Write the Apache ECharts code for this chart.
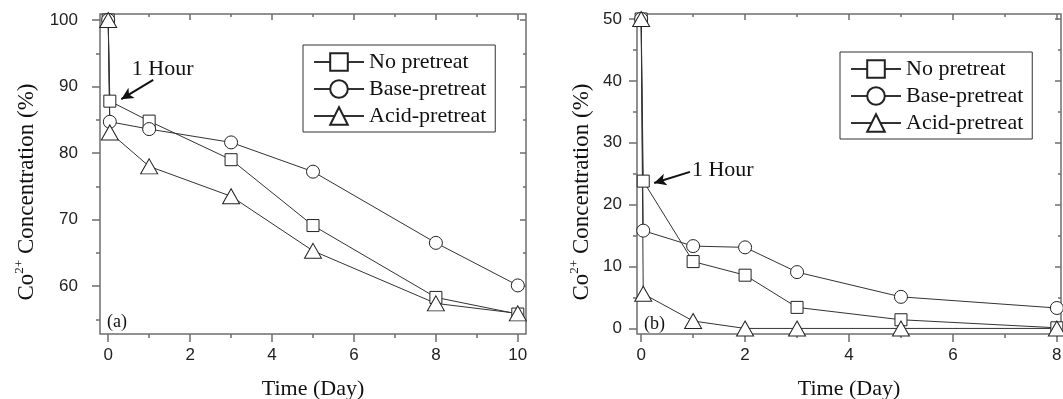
<!DOCTYPE html>
<html>
<head>
<meta charset="utf-8">
<script src="https://cdn.jsdelivr.net/npm/echarts@6/dist/echarts.min.js"></script>
<style>
  html, body { margin: 0; padding: 0; background: #fff; }
  #chart { width: 1063px; height: 399px; }
</style>
</head>
<body>
<div id="chart"></div>
<script>
const seriesNames = ['No pretreat', 'Base-pretreat', 'Acid-pretreat']

// panel (a)
const leftDays = [0, 0.04, 1, 3, 5, 8, 10]
const leftNoPretreat = [100, 87.8, 84.8, 79.0, 69.1, 58.3, 55.8]
const leftBasePretreat = [100, 84.7, 83.6, 81.6, 77.2, 66.5, 60.1]
const leftAcidPretreat = [100, 83.1, 78.0, 73.5, 65.3, 57.4, 55.9]
const leftXTicks = [0, 2, 4, 6, 8, 10]
const leftXMinor = [1, 3, 5, 7, 9]
const leftYTicks = [60, 70, 80, 90, 100]
const leftYMinor = [55, 65, 75, 85, 95]

// panel (b)
const rightDays = [0, 0.04, 1, 2, 3, 5, 8]
const rightNoPretreat = [50, 23.8, 10.8, 8.6, 3.4, 1.4, 0.1]
const rightBasePretreat = [50, 15.8, 13.3, 13.1, 9.1, 5.1, 3.3]
const rightAcidPretreat = [50, 5.6, 1.2, 0, 0, 0, 0]
const rightXTicks = [0, 2, 4, 6, 8]
const rightXMinor = [1, 3, 5, 7]
const rightYTicks = [0, 10, 20, 30, 40, 50]
const rightYMinor = [5, 15, 25, 35, 45]

const axisGray = '#6e6e6e'
const sans = 'Liberation Sans, Arial, sans-serif'
const serif = 'Liberation Serif, Times New Roman, serif'

const yTitle = '{n|Co}{s|2+}{n| Concentration (%)}'
const yTitleRich = {
  n: { fontFamily: serif, fontSize: 23, color: '#111', lineHeight: 27 },
  s: { fontFamily: serif, fontSize: 13, color: '#111', lineHeight: 13, verticalAlign: 'top' },
}

function makeAxis(gridIndex, position, min, max, ticks, len, inside, withLabels, margin) {
  return {
    type: 'value',
    gridIndex,
    position,
    min,
    max,
    axisLine: { show: false, onZero: false },
    splitLine: { show: false },
    axisTick: {
      show: true,
      inside,
      length: len,
      customValues: ticks,
      lineStyle: { color: axisGray, width: 1.5 },
    },
    axisLabel: {
      show: withLabels,
      customValues: ticks,
      margin,
      color: '#222',
      fontFamily: sans,
      fontSize: 17,
    },
  }
}

function pair(days, values) {
  return days.map((d, i) => [d, values[i]])
}

function lineSeries(name, symbol, size, xi, yi, data) {
  return {
    name,
    type: 'line',
    xAxisIndex: xi,
    yAxisIndex: yi,
    data,
    symbol,
    symbolSize: size,
    showAllSymbol: true,
    clip: false,
    lineStyle: { color: '#333', width: 1 },
    itemStyle: { color: '#fff', borderColor: '#222', borderWidth: 1 },
    emphasis: { disabled: true },
    animation: false,
  }
}

function arrowMarks(from, to, textAt) {
  return {
    markLine: {
      silent: true,
      symbol: ['none', 'arrow'],
      symbolSize: [9, 12],
      label: { show: false },
      lineStyle: { color: '#111', width: 2, type: 'solid' },
      data: [[{ coord: from }, { coord: to }]],
    },
    markPoint: {
      silent: true,
      symbol: 'rect',
      symbolSize: 1,
      itemStyle: { color: 'rgba(0,0,0,0)' },
      label: {
        show: true,
        position: 'inside',
        formatter: '1 Hour',
        color: '#111',
        fontFamily: serif,
        fontSize: 22,
      },
      data: [{ coord: textAt }],
    },
  }
}

const gridBase = { top: 14, height: 320, containLabel: false, outerBoundsMode: 'none' }
const grids = [
  Object.assign({ left: 100, width: 426, show: true, borderColor: axisGray, borderWidth: 1.5 }, gridBase),
  Object.assign({ left: 100, width: 426 }, gridBase),
  Object.assign({ left: 637, width: 424, show: true, borderColor: axisGray, borderWidth: 1.5 }, gridBase),
  Object.assign({ left: 637, width: 424 }, gridBase),
]

const lx = [-0.2, 10.2]
const ly = [52.8, 100.9]
const rx = [-0.08, 8.08]
const ry = [-0.9, 50.8]

const xName = {
  name: 'Time (Day)', nameLocation: 'middle', nameGap: 44,
  nameTextStyle: { fontFamily: serif, fontSize: 22, color: '#111' },
}

const xAxes = [
  // 0,1: panel a majors
  Object.assign(makeAxis(0, 'bottom', lx[0], lx[1], leftXTicks, 8, false, true, 13), xName),
  makeAxis(0, 'top', lx[0], lx[1], leftXTicks, 6, true, false, 8),
  // 2,3: panel a minors
  makeAxis(1, 'bottom', lx[0], lx[1], leftXMinor, 4, false, false, 8),
  makeAxis(1, 'top', lx[0], lx[1], leftXMinor, 3, true, false, 8),
  // 4,5: panel b majors
  Object.assign(makeAxis(2, 'bottom', rx[0], rx[1], rightXTicks, 8, false, true, 13), xName),
  makeAxis(2, 'top', rx[0], rx[1], rightXTicks, 6, true, false, 8),
  // 6,7: panel b minors
  makeAxis(3, 'bottom', rx[0], rx[1], rightXMinor, 4, false, false, 8),
  makeAxis(3, 'top', rx[0], rx[1], rightXMinor, 3, true, false, 8),
]

const yAxes = [
  Object.assign(makeAxis(0, 'left', ly[0], ly[1], leftYTicks, 8, false, true, 22), {
    name: yTitle, nameLocation: 'middle', nameGap: 60, nameRotate: 90,
    nameTextStyle: { rich: yTitleRich, padding: [0, 36, 0, 0] },
  }),
  makeAxis(0, 'right', ly[0], ly[1], leftYTicks, 6, true, false, 8),
  makeAxis(1, 'left', ly[0], ly[1], leftYMinor, 4, false, false, 8),
  makeAxis(1, 'right', ly[0], ly[1], leftYMinor, 3, true, false, 8),
  Object.assign(makeAxis(2, 'left', ry[0], ry[1], rightYTicks, 8, false, true, 15), {
    name: yTitle, nameLocation: 'middle', nameGap: 42, nameRotate: 90,
    nameTextStyle: { rich: yTitleRich, padding: [0, 36, 0, 0] },
  }),
  makeAxis(2, 'right', ry[0], ry[1], rightYTicks, 6, true, false, 8),
  makeAxis(3, 'left', ry[0], ry[1], rightYMinor, 4, false, false, 8),
  makeAxis(3, 'right', ry[0], ry[1], rightYMinor, 3, true, false, 8),
]

const legendBase = {
  orient: 'vertical',
  data: seriesNames,
  selectedMode: false,
  itemWidth: 50,
  itemHeight: 22,
  itemGap: 5,
  padding: [6, 9, 5, 10],
  borderColor: '#333',
  borderWidth: 1,
  backgroundColor: '#fff',
  textStyle: { fontFamily: serif, fontSize: 22, color: '#111', lineHeight: 22 },
}

const series = [
  Object.assign(lineSeries(seriesNames[0], 'rect', 12, 0, 0, pair(leftDays, leftNoPretreat)),
    arrowMarks([1.1, 91.0], [0.32, 88.1], [1.33, 92.6])),
  lineSeries(seriesNames[1], 'circle', 13, 0, 0, pair(leftDays, leftBasePretreat)),
  lineSeries(seriesNames[2], 'triangle', [17, 15], 0, 0, pair(leftDays, leftAcidPretreat)),
  Object.assign(lineSeries(seriesNames[0], 'rect', 12, 4, 4, pair(rightDays, rightNoPretreat)),
    arrowMarks([0.94, 25.3], [0.25, 23.5], [1.57, 25.6])),
  lineSeries(seriesNames[1], 'circle', 13, 4, 4, pair(rightDays, rightBasePretreat)),
  lineSeries(seriesNames[2], 'triangle', [17, 15], 4, 4, pair(rightDays, rightAcidPretreat)),
]

const chart = echarts.init(document.getElementById('chart'))
chart.setOption({
  animation: false,
  backgroundColor: '#fff',
  grid: grids,
  xAxis: xAxes,
  yAxis: yAxes,
  legend: [
    Object.assign({ left: 303, top: 45 }, legendBase),
    Object.assign({ left: 840, top: 52 }, legendBase),
  ],
  graphic: [
    { type: 'text', left: 107, top: 313, style: { text: '(a)', font: '18px ' + serif, fill: '#111' } },
    { type: 'text', left: 644, top: 315, style: { text: '(b)', font: '18px ' + serif, fill: '#111' } },
  ],
  series,
})
</script>
</body>
</html>
